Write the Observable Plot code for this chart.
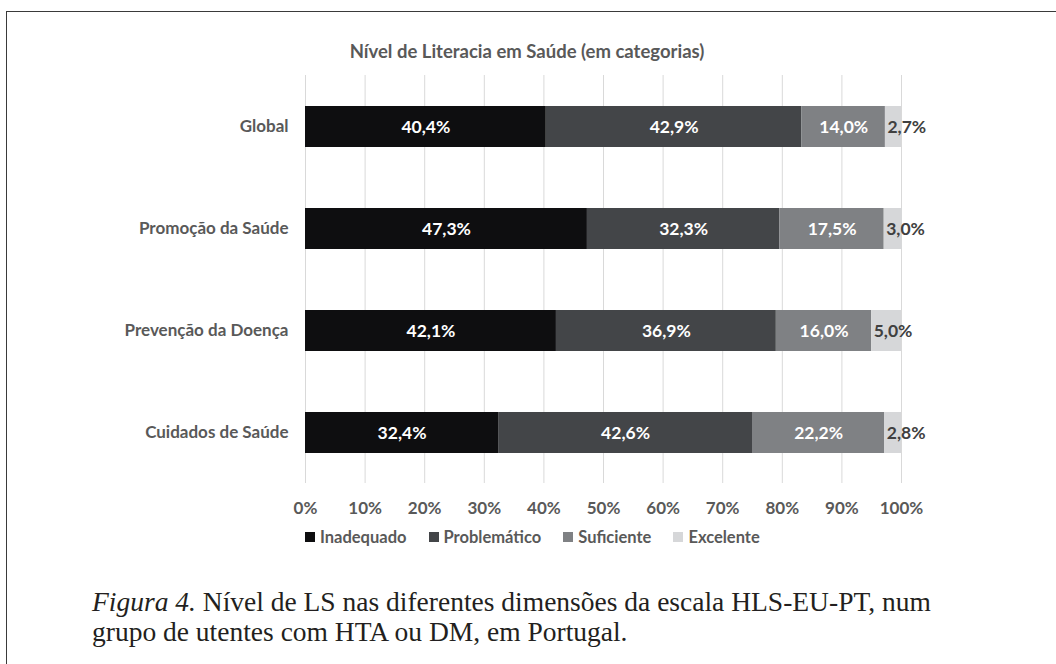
<!DOCTYPE html>
<html>
<head>
<meta charset="utf-8">
<script src="https://cdn.jsdelivr.net/npm/d3@7"></script>
<script src="https://cdn.jsdelivr.net/npm/@observablehq/plot@0.6"></script>
<style>
  html, body { margin: 0; padding: 0; background: #fff; }
  #page { position: relative; width: 1056px; height: 664px; overflow: hidden; background: #fff; }
  #frame { position: absolute; left: 6px; top: 11px; width: 1100px; height: 700px;
           border-left: 1.5px solid #3a3a3a; border-top: 1.5px solid #3a3a3a; }
  #title { position: absolute; left: 0; width: 1054px; top: 40px; text-align: center;
           font-family: Lato, sans-serif; font-weight: bold; font-size: 18.5px; color: #595959; }
  #chart { position: absolute; left: 0; top: 0; }
  #legend { position: absolute; left: 305px; top: 527px; display: flex; align-items: center;
            font-family: Lato, sans-serif; font-weight: bold; font-size: 16.5px; color: #595959; }
  #legend .item { display: flex; align-items: center; margin-right: 22px; }
  #legend .sw { width: 10px; height: 10px; margin-right: 5px; }
  #caption { position: absolute; left: 92px; top: 587px; font-family: "Liberation Serif", serif;
             font-size: 27.5px; line-height: 30px; color: #231f20; white-space: nowrap; }
</style>
</head>
<body>
<div id="page">
  <div id="frame"></div>
  <div id="title"></div>
  <div id="chart"></div>
  <div id="legend"></div>
  <div id="caption"><i>Figura 4.</i> Nível de LS nas diferentes dimensões da escala HLS-EU-PT, num<br>grupo de utentes com HTA ou DM, em Portugal.</div>
</div>
<script>
const title = "Nível de Literacia em Saúde (em categorias)";
const categories = ["Global", "Promoção da Saúde", "Prevenção da Doença", "Cuidados de Saúde"];
const levels = ["Inadequado", "Problemático", "Suficiente", "Excelente"];
const inadequado = [40.4, 47.3, 42.1, 32.4];
const problematico = [42.9, 32.3, 36.9, 42.6];
const suficiente = [14.0, 17.5, 16.0, 22.2];
const excelente = [2.7, 3.0, 5.0, 2.8];
const xTicks = [0, 10, 20, 30, 40, 50, 60, 70, 80, 90, 100];
const colors = ["#0e0e10", "#434548", "#7f8184", "#d6d7d9"];

document.getElementById("title").textContent = title;

const series = [inadequado, problematico, suficiente, excelente];
const rows = [];
categories.forEach((cat, i) => {
  let acc = 0;
  levels.forEach((lev, j) => {
    const v = series[j][i];
    rows.push({cat, level: lev, value: v, x1: acc, x2: acc + v});
    acc += v;
  });
});
const fmt = v => v.toFixed(1).replace(".", ",") + "%";

const chart = Plot.plot({
  width: 1056,
  height: 525,
  marginTop: 75,
  marginBottom: 42,
  marginLeft: 305,
  marginRight: 155,
  style: {fontFamily: "Lato, sans-serif", background: "transparent"},
  x: {domain: [0, 100], ticks: xTicks, tickFormat: d => d + "%"},
  y: {domain: categories, paddingInner: 0.6, paddingOuter: 0.3},
  color: {domain: levels, range: colors},
  marks: [
    Plot.gridX(xTicks, {stroke: "#d9d9d9", strokeOpacity: 1, strokeWidth: 1}),
    Plot.barX(rows, {x1: "x1", x2: "x2", y: "cat", fill: "level"}),
    Plot.text(rows.filter(d => d.level !== "Excelente"), {
      x: d => (d.x1 + d.x2) / 2, y: "cat", text: d => fmt(d.value),
      fill: "white", fontWeight: "bold", fontSize: 17.5
    }),
    Plot.text(rows.filter(d => d.level === "Excelente"), {
      x: "x1", y: "cat", text: d => fmt(d.value), textAnchor: "start", dx: 2,
      fill: "#404040", fontWeight: "bold", fontSize: 17.5
    }),
    Plot.axisX({ticks: xTicks, tickFormat: d => d + "%", tickSize: 0, tickPadding: 18, label: null,
      fontSize: 17, fontWeight: "bold", fill: "#595959"}),
    Plot.axisY({tickSize: 0, tickPadding: 17, label: null,
      fontSize: 17, fontWeight: "bold", fill: "#595959"})
  ]
});
document.getElementById("chart").appendChild(chart);

const legend = document.getElementById("legend");
levels.forEach((lev, j) => {
  const item = document.createElement("div");
  item.className = "item";
  const sw = document.createElement("div");
  sw.className = "sw";
  sw.style.background = colors[j];
  const label = document.createElement("span");
  label.textContent = lev;
  item.appendChild(sw);
  item.appendChild(label);
  legend.appendChild(item);
});
</script>
</body>
</html>
